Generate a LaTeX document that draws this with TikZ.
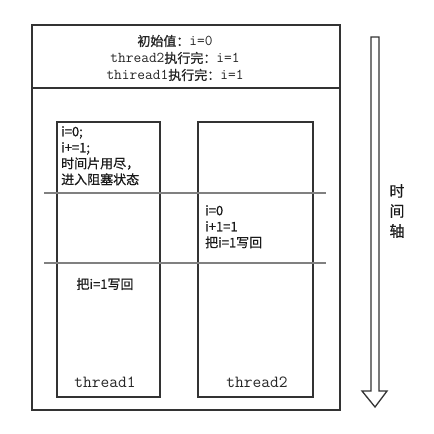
\documentclass[tikz,border=0pt]{standalone}
\usepackage{fontspec}
\setmainfont{Liberation Sans}
\newfontfamily\cjk{Noto Sans CJK SC}[UprightFeatures={FakeBold=0.6}]
\newfontfamily\cjkb{Noto Sans CJK SC}[UprightFeatures={FakeBold=1.2}]
\begin{document}
\begin{tikzpicture}[x=1pt,y=-1pt,
  box/.style={draw=black!80,line width=1.8pt},
  sep/.style={draw=black!50,line width=1.8pt},
  txt/.style={inner sep=0pt,font=\cjk\fontsize{13}{16}\selectfont,align=left,text=black!90},
  mono/.style={inner sep=0pt,font=\ttfamily\fontsize{15}{17}\selectfont,text=black!85},
  label/.style={inner sep=0pt,font=\ttfamily\fontsize{17}{17}\selectfont,text=black!85}]
\useasboundingbox (0,0) rectangle (434,434);
% outer box and header
\node[box,minimum width=308pt,minimum height=385pt,anchor=north west,inner sep=0pt] (outer) at (31,24) {};
\coordinate (hl) at (31,88);
\coordinate (hr) at (339,88);
\draw[box] (hl) -- (hr);
\node[mono,align=center] (header) at (175,58) {{\cjkb\fontsize{13}{17}\selectfont 初始值：}i=0\\thread2{\cjk\fontsize{13}{17}\selectfont 执行完：}i=1\\thiread1{\cjk\fontsize{13}{17}\selectfont 执行完：}i=1};
% threads
\node[box,minimum width=103pt,minimum height=275pt,anchor=north west,inner sep=0pt] (t1) at (56,121) {};
\node[box,minimum width=115pt,minimum height=275pt,anchor=north west,inner sep=0pt] (t2) at (197,121) {};
% separators
\coordinate (s1l) at (44,193); \coordinate (s1r) at (326,193);
\coordinate (s2l) at (44,263); \coordinate (s2r) at (326,263);
\draw[sep] (s1l) -- (s1r);
\draw[sep] (s2l) -- (s2r);
% texts
\node[txt,anchor=north west] (a1) at (61,126) {i=0;\\i+=1;\\时间片用尽，\\进入阻塞状态};
\node[txt,anchor=north west] (b1) at (205,205) {i=0\\i+1=1\\把i=1写回};
\node[txt] (a2) at (105,284) {把i=1写回};
\node[label] (n1) at (105,382) {thread1};
\node[label] (n2) at (257,382) {thread2};
% time axis arrow
\draw[draw=black!80,line width=1.3pt,fill=white,line join=miter]
  (371,37) -- (379,37) -- (379,391) -- (387,391) -- (375,407) -- (362,391) -- (371,391) -- cycle;
\node[txt,align=center,font=\cjk\fontsize{15}{20}\selectfont] (axis) at (397,211) {时\\间\\轴};
\end{tikzpicture}
\end{document}
